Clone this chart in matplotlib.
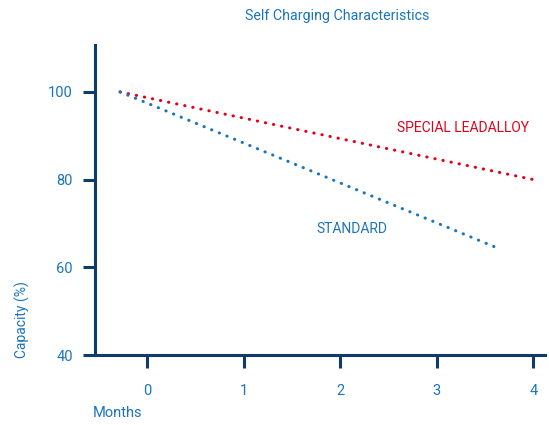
import matplotlib
matplotlib.use("Agg")
import matplotlib.pyplot as plt

# data
months_std = [-0.28, 3.65]
capacity_std = [100, 64.2]
months_special = [-0.28, 4.0]
capacity_special = [100, 80]
x_ticks = [0, 1, 2, 3, 4]
y_ticks = [40, 60, 80, 100]

blue = "#1a75bb"
red = "#e3001b"
navy = "#0d3b6e"

plt.rcParams["font.family"] = ["Roboto", "DejaVu Sans"]

fig = plt.figure(figsize=(5.49, 4.25), dpi=100)
ax = fig.add_axes([95 / 549, 1 - 355 / 425, 450 / 549, 310 / 425])

dots = (0, (0.1, 2.6))
ax.plot(months_special, capacity_special, color=red, lw=2.2,
        linestyle=dots, dash_capstyle="round")
ax.plot(months_std, capacity_std, color=blue, lw=2.2,
        linestyle=dots, dash_capstyle="round")

ax.set_xlim(-0.54, 4.12)
ax.set_ylim(40, 110.7)
ax.set_xticks(x_ticks)
ax.set_yticks(y_ticks)

for side in ["top", "right"]:
    ax.spines[side].set_visible(False)
for side in ["left", "bottom"]:
    ax.spines[side].set_color(navy)
    ax.spines[side].set_linewidth(2.2)

ax.tick_params(axis="both", colors=navy, width=2.2, length=9,
               labelcolor=blue, labelsize=10.5)
ax.tick_params(axis="x", pad=12)
ax.tick_params(axis="y", pad=7)

ax.text(3.27, 91.8, "SPECIAL LEADALLOY", color=red, fontsize=10,
        ha="center", va="center")
ax.text(2.12, 68.8, "STANDARD", color=blue, fontsize=10,
        ha="center", va="center")

fig.text(337 / 549, 1 - 16 / 425, "Self Charging Characteristics",
         color=blue, fontsize=10.3, ha="center", va="center")
fig.text(22 / 549, 1 - 320 / 425, "Capacity (%)", color=blue,
         fontsize=10, ha="center", va="center", rotation=90)
fig.text(118 / 549, 1 - 413 / 425, "Months", color=blue,
         fontsize=10.5, ha="center", va="center")

fig.savefig("out.png", dpi=100)
